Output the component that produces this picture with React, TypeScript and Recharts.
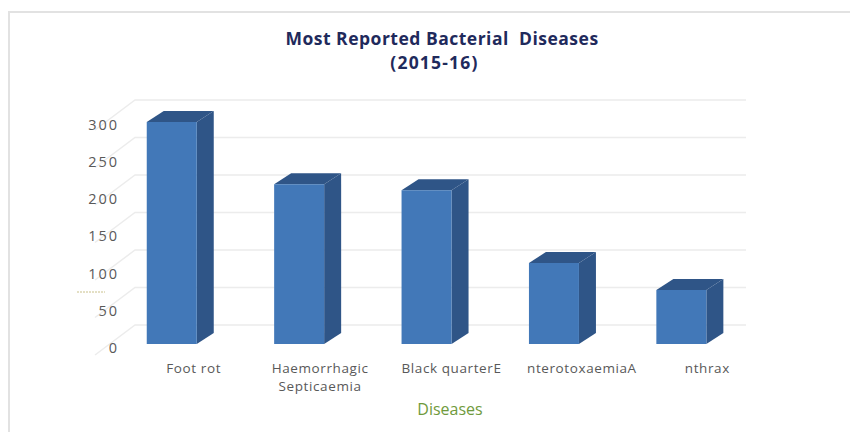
import React from 'react';
import { BarChart, Bar, XAxis, YAxis, CartesianGrid } from 'recharts';

const diseases = ['Foot rot', 'Haemorrhagic Septicaemia', 'Black quarterE', 'nterotoxaemiaA', 'nthrax'];
const reports = [296, 213, 205, 108, 72];
const yTicks = [0, 50, 100, 150, 200, 250, 300];

const chartData = diseases.map((name, i) => ({ name, value: reports[i] }));

const FONT = '"Open Sans", sans-serif';
const DEPTH_X = 17;
const DEPTH_Y = 11;

// the 3d column: front face plus top and side faces
const Column = (props: any) => {
  const { x, y, width, height } = props;
  const r = x + width;
  const b = y + height;
  return (
    <g>
      <polygon
        points={`${x},${y} ${x + DEPTH_X},${y - DEPTH_Y} ${r + DEPTH_X},${y - DEPTH_Y} ${r},${y}`}
        fill="#2f5587"
      />
      <polygon
        points={`${r},${y} ${r + DEPTH_X},${y - DEPTH_Y} ${r + DEPTH_X},${b - DEPTH_Y} ${r},${b}`}
        fill="#2f5587"
      />
      <rect x={x} y={y} width={width} height={height} fill="#4278b8" />
    </g>
  );
};

// grid lines sit on the back wall, with a diagonal on the side wall
const GridLine = (props: any) => {
  const { x2, y1 } = props;
  const backY = y1 - 19;
  return (
    <polyline
      points={`95,${backY + 30} 135,${backY} ${x2 + 1},${backY}`}
      fill="none"
      stroke="#ececec"
      strokeWidth={1.5}
    />
  );
};

const CategoryTick = (props: any) => {
  const { x, y, payload } = props;
  const shift: Record<string, number> = {
    'Foot rot': 22,
    'Haemorrhagic Septicaemia': 21,
    'Black quarterE': 25,
    nterotoxaemiaA: 28,
    nthrax: 26,
  };
  const lines = payload.value === 'Haemorrhagic Septicaemia' ? ['Haemorrhagic', 'Septicaemia'] : [payload.value];
  return (
    <text x={x + shift[payload.value]} y={y + 23} textAnchor="middle" fontFamily={FONT} fontSize={13.5} letterSpacing={0.6} fill="#595959">
      {lines.map((line: string, i: number) => (
        <tspan key={line} x={x + shift[payload.value]} dy={i === 0 ? 0 : 18}>
          {line}
        </tspan>
      ))}
    </text>
  );
};

const ValueTick = (props: any) => {
  const { y, payload } = props;
  return (
    <text x={119} y={y + 9 + payload.value * 0.0063} textAnchor="end" fontFamily={FONT} fontSize={14.5} letterSpacing={2} fill="#595959">
      {payload.value}
    </text>
  );
};

export default function App() {
  return (
    <div style={{ position: 'absolute', left: 0, top: 0, width: 850, height: 432, background: '#fff' }}>
      <div style={{ position: 'absolute', left: 8, top: 11, width: 840, height: 420, borderLeft: '2px solid #e2e2e2', borderTop: '2px solid #e2e2e2' }} />
      <BarChart
        width={850}
        height={432}
        data={chartData}
        barCategoryGap={38.75}
        margin={{ top: 119, right: 105, bottom: 0, left: 0 }}
        style={{ position: 'absolute', left: 0, top: 0 }}
      >
        <CartesianGrid vertical={false} horizontal={<GridLine />} />
        <XAxis dataKey="name" axisLine={false} tickLine={false} tick={<CategoryTick />} height={88} interval={0} tickMargin={0} />
        <YAxis domain={[0, 300]} ticks={yTicks} axisLine={false} tickLine={false} tick={<ValueTick />} width={108} />
        <Bar dataKey="value" shape={<Column />} isAnimationActive={false} />
        <text x={442} y={45} textAnchor="middle" fontFamily={FONT} fontSize={17.5} fontWeight={700} letterSpacing={0.5} fill="#1f2a5c" style={{ whiteSpace: 'pre' }}>
          Most Reported Bacterial  Diseases
        </text>
        <text x={434.5} y={69} textAnchor="middle" fontFamily={FONT} fontSize={17.5} fontWeight={700} letterSpacing={1.2} fill="#1f2a5c">
          (2015-16)
        </text>
        <text x={450} y={415} textAnchor="middle" fontFamily={FONT} fontSize={16} fill="#6f9a3c">
          Diseases
        </text>
        <line x1={77} x2={105} y1={292} y2={292} stroke="#c9c08a" strokeDasharray="2 1" />
      </BarChart>
    </div>
  );
}
